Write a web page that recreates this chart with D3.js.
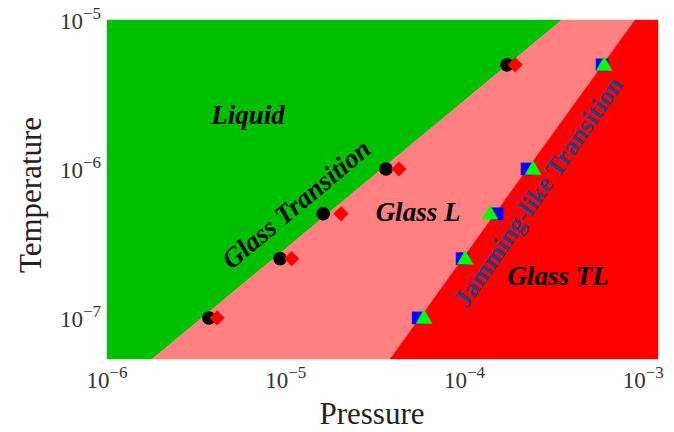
<!DOCTYPE html>
<html>
<head>
<meta charset="utf-8">
<script src="https://cdn.jsdelivr.net/npm/d3@7"></script>
<style>
  body { margin: 0; background: #ffffff; }
  text { font-family: "Liberation Serif", "Times New Roman", serif; }
</style>
</head>
<body>
<svg id="canvas" width="674" height="432"></svg>
<script>
// data
let pressureRange = [1e-6, 1.21e-3]
let temperatureRange = [5.3e-8, 1e-5]

let pressureTicks = [1e-6, 1e-5, 1e-4, 1e-3]
let temperatureTicks = [1e-7, 1e-6, 1e-5]

// temperatures at which the transitions were measured
let temperatures = [1e-7, 2.5e-7, 5e-7, 1e-6, 5e-6]

// glass transition points (two estimates)
let glassCircleP = [3.72e-6, 9.3e-6, 1.62e-5, 3.64e-5, 1.73e-4]
let glassDiamondP = [4.13e-6, 1.08e-5, 2.04e-5, 4.3e-5, 1.92e-4]

// jamming-like transition points (two estimates)
let jamSquareP = [5.51e-5, 9.7e-5, 1.52e-4, 2.24e-4, 5.89e-4]
let jamTriangleP = [5.94e-5, 1.01e-4, 1.39e-4, 2.42e-4, 6.05e-4]

// boundary lines as [pressure, temperature] end points
let glassBoundary = [[1.79e-6, 5.3e-8], [3.5e-4, 1e-5]]
let jamBoundary = [[3.84e-5, 5.3e-8], [9.0e-4, 1e-5]]

let canvas = d3.select('#canvas')

let xScale = d3.scaleLog().domain(pressureRange).range([107, 658])
let yScale = d3.scaleLog().domain(temperatureRange).range([359, 20])

let drawPhaseDiagram = () => {

    let pMin = pressureRange[0], pMax = pressureRange[1]
    let tMin = temperatureRange[0], tMax = temperatureRange[1]

    let area = d3.line()
        .x((d) => xScale(d[0]))
        .y((d) => yScale(d[1]))

    // the three regions
    let regions = [
        { fill: '#00c000', pts: [[pMin, tMin], glassBoundary[0], glassBoundary[1], [pMin, tMax]] },
        { fill: '#ff8080', pts: [glassBoundary[0], jamBoundary[0], jamBoundary[1], glassBoundary[1]] },
        { fill: '#ff0000', pts: [jamBoundary[0], [pMax, tMin], [pMax, tMax], jamBoundary[1]] }
    ]

    canvas.selectAll('path.region')
        .data(regions)
        .enter()
        .append('path')
        .attr('class', 'region')
        .attr('d', (d) => area(d.pts) + 'Z')
        .attr('fill', (d) => d.fill)
        .attr('stroke', (d) => d.fill)
        .attr('stroke-width', 0.5)

    // markers
    let rows = temperatures.map((t, i) => ({
        t: t, circle: glassCircleP[i], diamond: glassDiamondP[i],
        square: jamSquareP[i], triangle: jamTriangleP[i]
    }))

    canvas.selectAll('circle.glass')
        .data(rows)
        .enter()
        .append('circle')
        .attr('class', 'glass')
        .attr('cx', (d) => xScale(d.circle))
        .attr('cy', (d) => yScale(d.t))
        .attr('r', 6.8)
        .attr('fill', '#000000')

    canvas.selectAll('path.diamond')
        .data(rows)
        .enter()
        .append('path')
        .attr('class', 'diamond')
        .attr('d', d3.symbol().type(d3.symbolSquare).size(115))
        .attr('transform', (d) => 'translate(' + xScale(d.diamond) + ',' + yScale(d.t) + ') rotate(45)')
        .attr('fill', '#ff0000')

    canvas.selectAll('path.square')
        .data(rows)
        .enter()
        .append('path')
        .attr('class', 'square')
        .attr('d', d3.symbol().type(d3.symbolSquare).size(160))
        .attr('transform', (d) => 'translate(' + xScale(d.square) + ',' + yScale(d.t) + ')')
        .attr('fill', '#0000ff')

    canvas.selectAll('path.triangle')
        .data(rows)
        .enter()
        .append('path')
        .attr('class', 'triangle')
        .attr('d', d3.symbol().type(d3.symbolTriangle).size(120))
        .attr('transform', (d) => 'translate(' + xScale(d.triangle) + ',' + (yScale(d.t) + 1) + ')')
        .attr('fill', '#00ff00')

    // tick labels written as 10^n
    let power = (sel, v) => {
        sel.append('tspan').text('10')
        sel.append('tspan')
            .attr('dy', -10)
            .attr('font-size', 17)
            .text('\u2212' + Math.abs(Math.round(Math.log10(v))))
    }

    canvas.selectAll('text.xtick')
        .data(pressureTicks)
        .enter()
        .append('text')
        .attr('class', 'xtick')
        .attr('x', (d) => xScale(d))
        .attr('y', 388)
        .attr('text-anchor', 'middle')
        .attr('font-size', 23)
        .attr('fill', '#333')
        .each(function (d) { power(d3.select(this), d) })

    canvas.selectAll('text.ytick')
        .data(temperatureTicks)
        .enter()
        .append('text')
        .attr('class', 'ytick')
        .attr('x', 101)
        .attr('y', (d) => yScale(d) + 9)
        .attr('text-anchor', 'end')
        .attr('font-size', 23)
        .attr('fill', '#333')
        .each(function (d) { power(d3.select(this), d) })

    // axis titles
    canvas.append('text')
        .attr('x', 372)
        .attr('y', 424)
        .attr('text-anchor', 'middle')
        .attr('font-size', 31)
        .attr('fill', '#222')
        .text('Pressure')

    canvas.append('text')
        .attr('transform', 'translate(41,195) rotate(-90)')
        .attr('text-anchor', 'middle')
        .attr('font-size', 31)
        .attr('fill', '#222')
        .text('Temperature')

    // region names
    let labels = [
        { text: 'Liquid', x: 248, y: 124, angle: 0, color: '#000', style: 'italic', size: 27 },
        { text: 'Glass L', x: 418, y: 221, angle: 0, color: '#000', style: 'italic', size: 27 },
        { text: 'Glass TL', x: 558, y: 285, angle: 0, color: '#000', style: 'italic', size: 27 },
        { text: 'Glass Transition', x: 302, y: 211, angle: -40, color: '#000', style: 'italic', size: 27 },
        { text: 'Jamming-like Transition', x: 545, y: 197, angle: -55, color: '#2b3f7f', style: 'normal', size: 26 }
    ]

    canvas.selectAll('text.region-label')
        .data(labels)
        .enter()
        .append('text')
        .attr('class', 'region-label')
        .attr('transform', (d) => 'translate(' + d.x + ',' + d.y + ') rotate(' + d.angle + ')')
        .attr('text-anchor', 'middle')
        .attr('font-size', (d) => d.size)
        .attr('font-weight', 'bold')
        .attr('font-style', (d) => d.style)
        .attr('fill', (d) => d.color)
        .text((d) => d.text)
}

drawPhaseDiagram()
</script>
</body>
</html>
